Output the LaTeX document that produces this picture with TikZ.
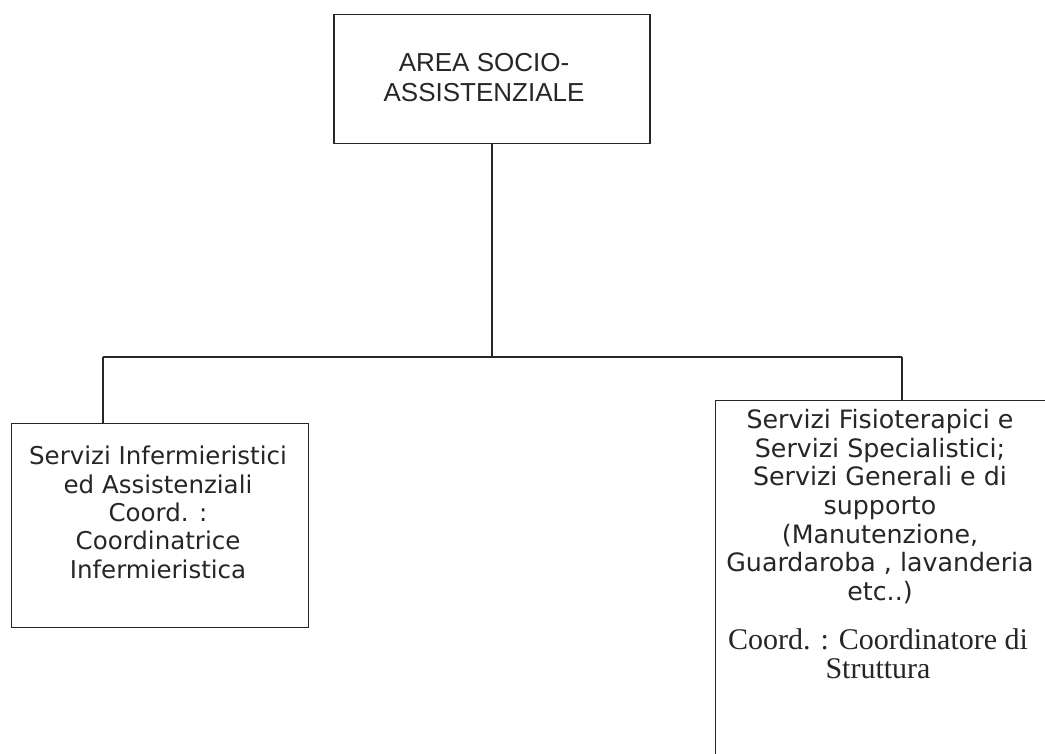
\documentclass[tikz,border=0pt]{standalone}
\usepackage{fontspec}
\newfontfamily\arialf{Liberation Sans}
\newfontfamily\verdf{DejaVu Sans}
\newfontfamily\timesf{Liberation Serif}
\begin{document}
\begin{tikzpicture}[x=1pt,y=-1pt,
  box/.style={draw=black!85,line width=1.3pt,rectangle,inner sep=0pt},
  conn/.style={draw=black!85,line width=1.3pt},
  toptxt/.style={font=\arialf\fontsize{26}{30}\selectfont,align=center,text=black!85,inner sep=0pt},
  vtxtl/.style={font=\verdf\fontsize{24.5}{28.3}\selectfont,align=center,text=black!85,inner sep=0pt},
  vtxtr/.style={font=\verdf\fontsize{25.3}{28.7}\selectfont,align=center,text=black!85,inner sep=0pt},
  ttxt/.style={font=\timesf\fontsize{30}{29.5}\selectfont,align=center,text=black!85,inner sep=0pt}]
\useasboundingbox (0,0) rectangle (1045,754);
\clip (0,0) rectangle (1045,754);
\fill[white] (0,0) rectangle (1045,754);
% boxes
\node[box,minimum width=316pt,minimum height=129pt,anchor=north] (top) at (492,14) {};
\node[box,minimum width=297pt,minimum height=204pt,anchor=north west] (left) at (11,423) {};
\node[box,minimum width=340pt,minimum height=420pt,anchor=north west] (right) at (715,400) {};
% texts
\node[toptxt] (toptext) at (484,78) {AREA SOCIO-\\ASSISTENZIALE};
\node[vtxtl,anchor=north] (lefttext) at (158,446) {Servizi Infermieristici\\ed Assistenziali\\Coord. :\\Coordinatrice\\Infermieristica};
\node[vtxtr,anchor=north] (righttext) at (880,409) {Servizi Fisioterapici e\\Servizi Specialistici;\\Servizi Generali e di\\supporto\\(Manutenzione,\\Guardaroba , lavanderia\\etc..)};
\node[ttxt,anchor=north] (rightcoord) at (878,628) {Coord. : Coordinatore di\\Struttura};
% connectors
\coordinate (busL) at (103,357);
\coordinate (busR) at (902,357);
\draw[conn] (top.south) -- (top.south |- busL);
\draw[conn] (busL) -- (busR);
\draw[conn] (busL) -- (busL |- left.north);
\draw[conn] (busR) -- (busR |- right.north);
\end{tikzpicture}
\end{document}
